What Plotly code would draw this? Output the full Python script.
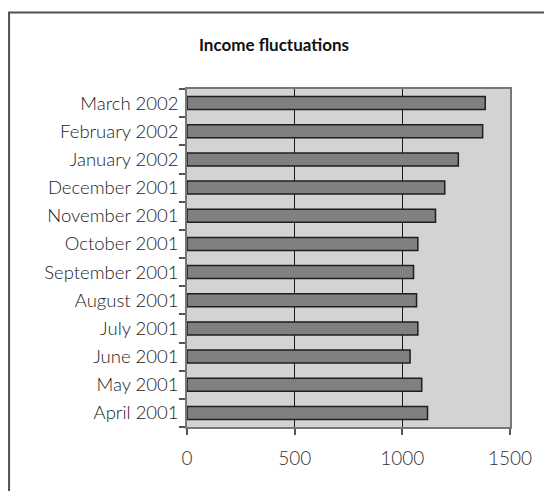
import plotly.graph_objects as go

months = ["April 2001", "May 2001", "June 2001", "July 2001", "August 2001",
          "September 2001", "October 2001", "November 2001", "December 2001",
          "January 2002", "February 2002", "March 2002"]
income = [1117, 1090, 1036, 1072, 1066, 1052, 1072, 1154, 1197, 1260, 1373, 1385]
x_ticks = [0, 500, 1000, 1500]

# page is rendered with an 8px body offset
OFF = 8
W, H = 552 - OFF, 491 - OFF
L, R, T, B = 186.5 - OFF, 41.5, 89 - OFF, 64
pw, ph = W - L - R, H - T - B

fig = go.Figure(go.Bar(
    x=income, y=months, orientation="h",
    marker=dict(color="#808080", line=dict(color="#1e1e1e", width=1.5)),
    width=0.46,
))

def px2paper_x(p):
    return (p - OFF - L) / pw

def px2paper_y(p):
    return (H - B - (p - OFF)) / ph

fig.add_shape(type="rect", xref="paper", yref="paper",
              x0=px2paper_x(8), x1=px2paper_x(570),
              y0=px2paper_y(520), y1=px2paper_y(12.5),
              line=dict(color="#505050", width=2), fillcolor="rgba(0,0,0,0)",
              layer="below")

fig.update_layout(
    width=W, height=H,
    margin=dict(l=L, r=R, t=T, b=B),
    paper_bgcolor="white",
    plot_bgcolor="#d3d3d3",
    showlegend=False,
    font=dict(family="Lato", color="#222222", weight=300),
    title=dict(text="Income fluctuations", x=(274 - OFF) / W, xanchor="center",
               y=1 - (45 - OFF) / H, yanchor="middle",
               font=dict(family="Lato", size=17, color="#111111", weight=700)),
    xaxis=dict(range=[0, 1500], tickvals=x_ticks, ticktext=[str(v) for v in x_ticks],
               showgrid=True, gridcolor="#1a1a1a", gridwidth=1.3,
               showline=True, linecolor="#777777", linewidth=1.5, mirror=True,
               ticks="outside", ticklen=6, tickcolor="#555555", tickwidth=1.5,
               tickfont=dict(size=19, color="#333333"), zeroline=False,
               ticklabelstandoff=7),
    yaxis=dict(categoryorder="array", categoryarray=months,
               showgrid=False, showline=True, linecolor="#777777", linewidth=1.5,
               mirror=True, ticks="outside", ticklen=6, tickcolor="#555555",
               tickwidth=1.5, tickson="boundaries",
               tickfont=dict(size=18.5, color="#222222"),
               ticklabelstandoff=3),
)

fig.write_html("out.html")
